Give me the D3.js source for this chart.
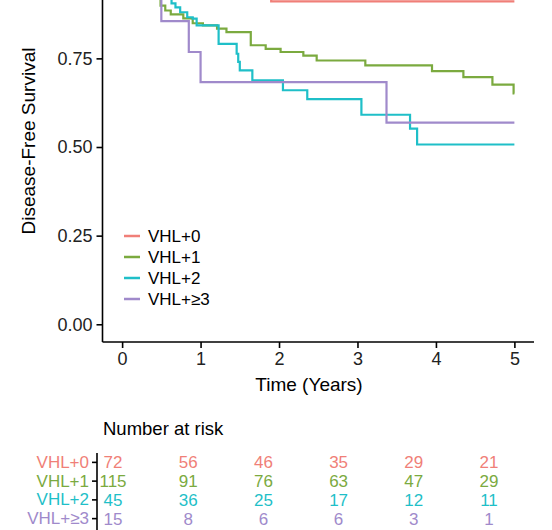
<!DOCTYPE html>
<html><head><meta charset="utf-8">
<script src="https://cdn.jsdelivr.net/npm/d3@7"></script>
<style>body{margin:0;background:#fff}svg{display:block;font-family:"Liberation Sans",Arial,sans-serif}</style>
</head><body><svg id="c" width="552" height="530"></svg>
<script>
const groups = ["VHL+0", "VHL+1", "VHL+2", "VHL+≥3"];
const colors = ["#F07F78", "#7BAA3F", "#1FBFC8", "#A08ACB"];
const timeVHL0 = [0, 0.55, 0.85, 1.1, 1.35, 1.6, 1.9, 5];
const survVHL0 = [1, 0.986, 0.972, 0.957, 0.942, 0.926, 0.911, 0.911];
const timeVHL1 = [0, 0.18, 0.28, 0.38, 0.49, 0.55, 0.62, 0.78, 0.9, 1.03, 1.21, 1.33, 1.64, 1.83, 2.02, 2.31, 2.48, 3.1, 3.95, 4.35, 4.72, 4.99, 5];
const survVHL1 = [1, 0.974, 0.948, 0.922, 0.899, 0.885, 0.874, 0.863, 0.849, 0.843, 0.834, 0.824, 0.787, 0.777, 0.768, 0.758, 0.744, 0.73, 0.714, 0.697, 0.676, 0.651, 0.651];
const timeVHL2 = [0, 0.25, 0.45, 0.55, 0.63, 0.68, 0.74, 0.83, 0.9, 0.95, 1.23, 1.46, 1.48, 1.5, 1.66, 2.05, 2.36, 3.05, 3.67, 3.76, 5];
const survVHL2 = [1, 0.978, 0.956, 0.933, 0.905, 0.894, 0.88, 0.866, 0.862, 0.843, 0.791, 0.763, 0.74, 0.716, 0.688, 0.66, 0.635, 0.591, 0.552, 0.507, 0.507];
const timeVHL3 = [0, 0.35, 0.5, 0.85, 1.0, 3.37, 5];
const survVHL3 = [1, 0.933, 0.855, 0.768, 0.683, 0.569, 0.569];
const xTicks = [0, 1, 2, 3, 4, 5];
const yTicks = [0, 0.25, 0.5, 0.75];
const riskVHL0 = [72, 56, 46, 35, 29, 21];
const riskVHL1 = [115, 91, 76, 63, 47, 29];
const riskVHL2 = [45, 36, 25, 17, 12, 11];
const riskVHL3 = [15, 8, 6, 6, 3, 1];

const times = [timeVHL0, timeVHL1, timeVHL2, timeVHL3];
const survs = [survVHL0, survVHL1, survVHL2, survVHL3];
const risks = [riskVHL0, riskVHL1, riskVHL2, riskVHL3];

const svg = d3.select("#c");
const x = d3.scaleLinear().domain([-0.25, 5.25]).range([102.5, 534]);
const y = d3.scaleLinear().domain([-0.05, 1.05]).range([342, -48]);

// axes
const yAxis = svg.append("g").attr("transform", "translate(102.5,0)")
  .call(d3.axisLeft(y).tickValues(yTicks).tickFormat(d3.format(".2f")).tickSize(6).tickPadding(4));
const xAxis = svg.append("g").attr("transform", "translate(0,342)")
  .call(d3.axisBottom(x).tickValues(xTicks).tickFormat(d3.format("d")).tickSize(6).tickPadding(4));
[yAxis, xAxis].forEach(g => {
  g.select(".domain").attr("stroke", "#000").attr("stroke-width", 1.6);
  g.selectAll(".tick line").attr("stroke", "#000").attr("stroke-width", 1.6);
  g.selectAll(".tick text").attr("fill", "#222").style("font-size", "18px").style("font-family", "Liberation Sans, Arial, sans-serif");
});
xAxis.select(".domain").attr("d", "M102.5,0H534");
yAxis.select(".domain").attr("d", "M0,-60V342");

svg.append("text").attr("x", 309).attr("y", 391).attr("text-anchor", "middle")
  .style("font-size", "19px").attr("fill", "#000").text("Time (Years)");
svg.append("text").attr("transform", "translate(35,141) rotate(-90)").attr("text-anchor", "middle")
  .style("font-size", "19px").attr("fill", "#000").text("Disease-Free Survival");

// curves
const line = d3.line().x(d => x(d[0])).y(d => y(d[1])).curve(d3.curveStepAfter);
groups.forEach((g, i) => {
  const pts = times[i].map((t, j) => [t, survs[i][j]]);
  svg.append("path").attr("d", line(pts)).attr("fill", "none")
    .attr("stroke", colors[i]).attr("stroke-width", 2.2);
});

// legend
groups.forEach((g, i) => {
  const ly = 236 + i * 21;
  svg.append("line").attr("x1", 124).attr("x2", 140).attr("y1", ly).attr("y2", ly)
    .attr("stroke", colors[i]).attr("stroke-width", 2.5);
  svg.append("text").attr("x", 148).attr("y", ly + 6).style("font-size", "17px")
    .attr("fill", "#000").text(g);
});

// risk table
svg.append("text").attr("x", 103).attr("y", 435).style("font-size", "18.5px").attr("fill", "#000").text("Number at risk");
const xr = d3.scaleLinear().domain([0, 5]).range([113, 489]);
const yr = d3.scaleBand().domain(groups).range([453, 528]);
const rAxis = svg.append("g").attr("transform", "translate(97,0)")
  .call(d3.axisLeft(yr).tickSize(5).tickPadding(3));
rAxis.select(".domain").attr("d", "M0,453V530").attr("stroke", "#000").attr("stroke-width", 1.6);
rAxis.selectAll(".tick line").attr("stroke", "#000").attr("stroke-width", 1.6);
rAxis.selectAll(".tick text").style("font-size", "17px").style("font-family", "Liberation Sans, Arial, sans-serif")
  .attr("fill", (d, i) => colors[i]);
groups.forEach((g, i) => {
  svg.append("g").selectAll("text").data(risks[i]).join("text")
    .attr("x", (d, j) => xr(xTicks[j])).attr("y", yr(g) + yr.bandwidth() / 2 + 6)
    .attr("text-anchor", "middle").style("font-size", "17px").attr("fill", colors[i])
    .text(d => d);
});
</script></body></html>
